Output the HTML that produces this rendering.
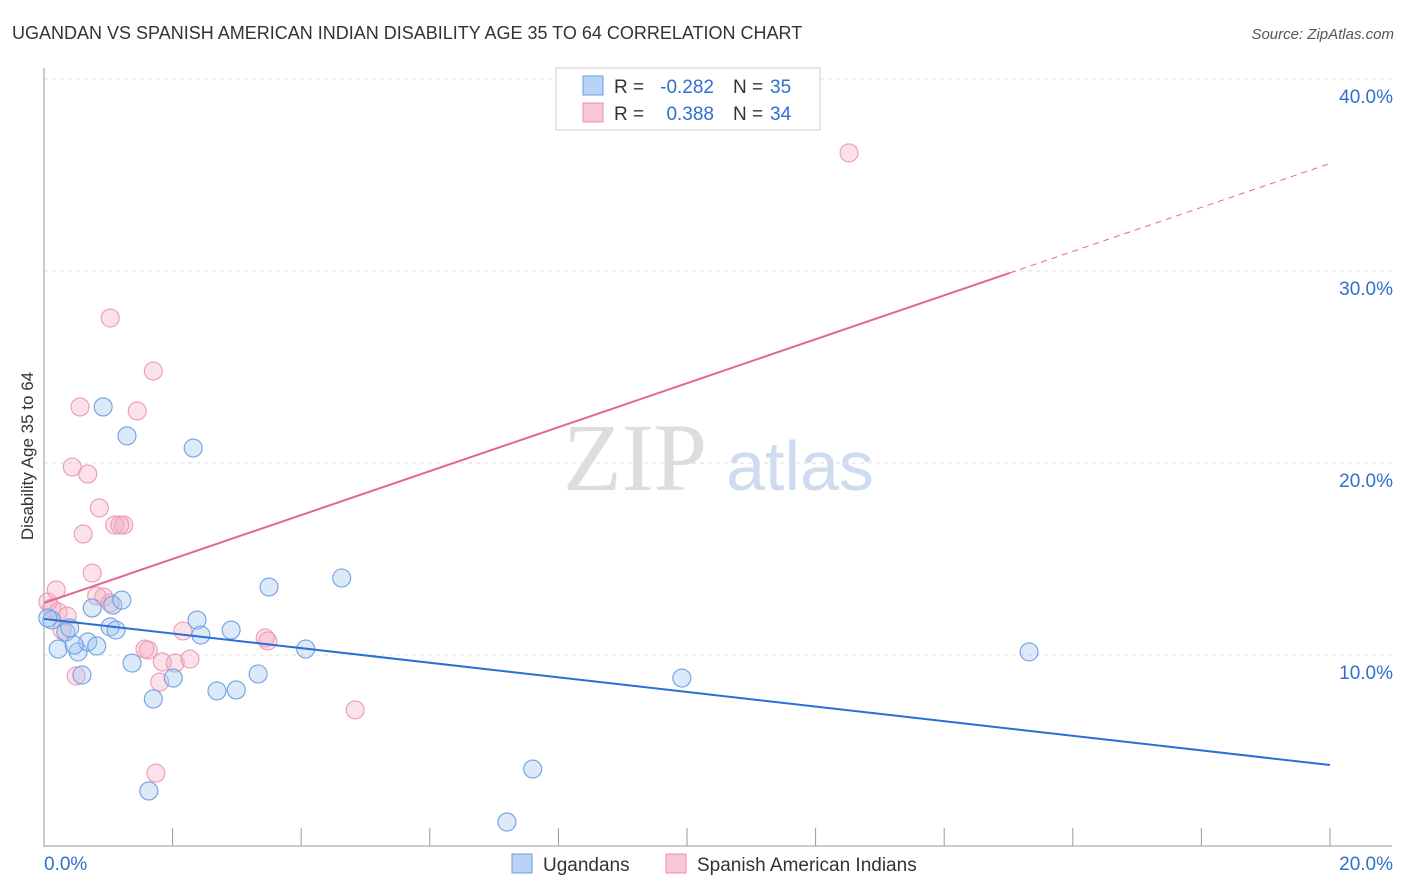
<!DOCTYPE html>
<html><head><meta charset="utf-8"><style>
body{margin:0;background:#fff;font-family:"Liberation Sans",sans-serif;}
svg{display:block}
</style></head><body>
<svg id="c" width="1406" height="892">
<text x="12" y="39" font-size="18" fill="#333">UGANDAN VS SPANISH AMERICAN INDIAN DISABILITY AGE 35 TO 64 CORRELATION CHART</text>
<text x="1394" y="39" font-size="15" fill="#555" font-style="italic" text-anchor="end">Source: ZipAtlas.com</text>
<text x="0" y="0" transform="translate(33,456) rotate(-90)" font-size="17" fill="#333" text-anchor="middle">Disability Age 35 to 64</text>
<text x="635" y="490" font-size="96" fill="#ddd" font-family="Liberation Serif,serif" text-anchor="middle">ZIP</text>
<text x="800" y="490" font-size="70" fill="#cfdcf0" text-anchor="middle">atlas</text>
<g id="grid"></g><g id="axes"></g><g id="pts"></g><g id="lines"></g>
<g>
<rect x="556" y="68" width="264" height="62" fill="#fff" stroke="#ccc"/>
<rect x="583" y="76" width="20" height="19" fill="#b8d3f5" stroke="#6a9ee0"/>
<rect x="583" y="103" width="20" height="19" fill="#f8c6d4" stroke="#e890a8"/>
<text x="614" y="93" font-size="19" fill="#333">R =</text>
<text x="714" y="93" font-size="19" fill="#2f6fd0" text-anchor="end">-0.282</text>
<text x="733" y="93" font-size="19" fill="#333">N =</text>
<text x="770" y="93" font-size="19" fill="#2f6fd0">35</text>
<text x="614" y="120" font-size="19" fill="#333">R =</text>
<text x="714" y="120" font-size="19" fill="#2f6fd0" text-anchor="end">0.388</text>
<text x="733" y="120" font-size="19" fill="#333">N =</text>
<text x="770" y="120" font-size="19" fill="#2f6fd0">34</text>
</g>
<g>
<rect x="512" y="854" width="20" height="19" fill="#b8d3f5" stroke="#6a9ee0"/>
<text x="543" y="871" font-size="19" fill="#333">Ugandans</text>
<rect x="666" y="854" width="20" height="19" fill="#f8c6d4" stroke="#e890a8"/>
<text x="697" y="871" font-size="19" fill="#333">Spanish American Indians</text>
</g>
</svg>
<script>
const yTicks=[10,20,30,40];
const yTickLabels=["10.0%","20.0%","30.0%","40.0%"];
const xTickLabels=["0.0%","20.0%"];
const blueX=[0.12,0.22,0.34,0.40,0.53,0.59,0.68,0.75,0.82,0.92,1.03,1.07,1.12,1.21,1.29,1.37,1.70,1.63,2.01,2.32,2.38,2.44,2.69,2.91,2.99,3.33,3.50,4.07,4.63,7.20,7.60,9.92,15.32,0.06,0.47];
const blueY=[11.82,10.31,11.20,11.41,10.16,8.96,10.68,12.45,10.47,22.92,11.46,12.60,11.30,12.86,21.41,9.58,7.71,2.92,8.80,20.78,11.82,11.04,8.13,11.30,8.18,9.01,13.54,10.31,14.01,1.30,4.06,8.80,10.16,11.93,10.52];
const pinkX=[12.52,1.03,1.70,0.56,1.45,0.44,0.68,0.86,1.10,1.24,1.18,0.61,0.75,0.19,0.06,0.12,0.22,0.36,0.28,0.82,0.93,1.03,2.16,1.57,1.62,1.84,2.04,2.27,1.80,0.50,4.84,1.74,3.44,3.48];
const pinkY=[36.15,27.55,24.79,22.92,22.71,19.79,19.43,17.66,16.77,16.77,16.77,16.30,14.27,13.39,12.76,12.45,12.24,12.03,11.30,13.07,13.02,12.71,11.25,10.31,10.26,9.64,9.58,9.79,8.59,8.91,7.14,3.85,10.89,10.73];
const blueTrend=[11.88,4.27];
const pinkTrend=[12.71,35.6];
const pinkSolidEnd=15.02;
const NS="http://www.w3.org/2000/svg";
const X=v=>44+v*64.3, Y=v=>847-v*19.2;
function mk(t,a,p){const e=document.createElementNS(NS,t);for(const k in a)e.setAttribute(k,a[k]);document.getElementById(p).appendChild(e);return e;}
yTicks.forEach((t,i)=>{
 const g=mk('line',{x1:44,x2:1392,y1:Y(t),y2:Y(t),stroke:'#ddd','stroke-dasharray':'4,4'},'grid');
 
 
 const l=mk('text',{x:1393,y:Y(t)+24,'font-size':19,fill:'#2f6fd0','text-anchor':'end'},'axes');l.textContent=yTickLabels[i];
 
 
});
const ax=mk('line',{x1:44,x2:44,y1:68,y2:847,stroke:'#999'},'axes');


const bx=mk('line',{x1:44,x2:1392,y1:846,y2:846,stroke:'#999'},'axes');


for(let i=1;i<=10;i++){const t=mk('line',{x1:X(i*2),x2:X(i*2),y1:828,y2:846,stroke:'#999'},'axes');
 
 }
const x0=mk('text',{x:44,y:870,'font-size':19,fill:'#2f6fd0'},'axes');x0.textContent=xTickLabels[0];


const x1=mk('text',{x:1393,y:870,'font-size':19,fill:'#2f6fd0','text-anchor':'end'},'axes');x1.textContent=xTickLabels[1];


pinkX.forEach((v,i)=>{const c=mk('circle',{cx:X(v),cy:Y(pinkY[i]),r:9,fill:'rgba(244,170,192,0.35)',stroke:'#ec9bb2','stroke-width':1.1},'pts');
 
 });
blueX.forEach((v,i)=>{const c=mk('circle',{cx:X(v),cy:Y(blueY[i]),r:9,fill:'rgba(160,196,240,0.38)',stroke:'#6fa1e2','stroke-width':1.1},'pts');
 
 });
const pAt=x=>pinkTrend[0]+(pinkTrend[1]-pinkTrend[0])*x/20;
const bl=mk('line',{x1:X(0),y1:Y(blueTrend[0]),x2:X(20),y2:Y(blueTrend[1]),stroke:'#2a6fd6','stroke-width':2},'lines');


const pl=mk('line',{x1:X(0),y1:Y(pAt(0)),x2:X(pinkSolidEnd),y2:Y(pAt(pinkSolidEnd)),stroke:'#e4668e','stroke-width':2},'lines');


const pd=mk('line',{x1:X(pinkSolidEnd),y1:Y(pAt(pinkSolidEnd)),x2:X(20),y2:Y(pAt(20)),stroke:'#e4668e','stroke-width':1,'stroke-dasharray':'6,5'},'lines');


</script>
</body></html>
